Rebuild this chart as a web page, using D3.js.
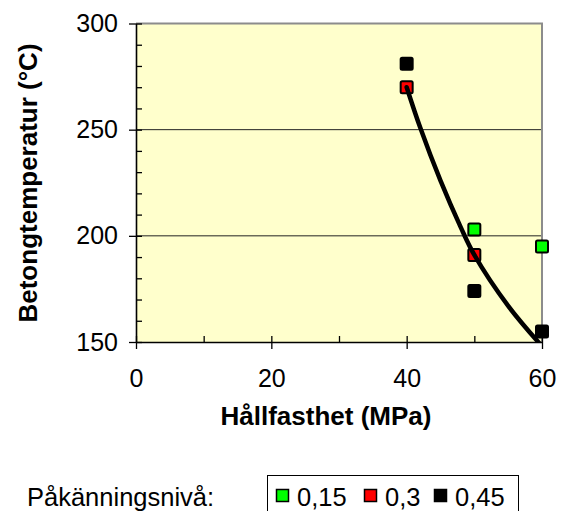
<!DOCTYPE html>
<html>
<head>
<meta charset="utf-8">
<script src="https://cdn.jsdelivr.net/npm/d3@7"></script>
<style>
  body { margin: 0; background: #fff; }
  svg { display: block; font-family: "Liberation Sans", Arial, sans-serif; }
</style>
</head>
<body>
<svg id="chart" width="565" height="511"></svg>
<script>
// data
var levels = ["0,15", "0,3", "0,45"];
var levelColors = ["#00FF00", "#FF0000", "#000000"];
var strength015 = [50, 60];
var temp015 = [203, 195];
var strength030 = [40, 50];
var temp030 = [270, 191];
var strength045 = [40, 50, 60];
var temp045 = [281, 174, 155];
// trend curve, points
var trendStrength = [40, 42, 45, 48, 50, 55, 60];
var trendTemp = [270, 251, 226, 204, 191, 167, 148];
var xTicks = [0, 20, 40, 60];
var yTicks = [150, 200, 250, 300];

var series = [
  { name: levels[0], color: levelColors[0], xs: strength015, ys: temp015 },
  { name: levels[1], color: levelColors[1], xs: strength030, ys: temp030 },
  { name: levels[2], color: levelColors[2], xs: strength045, ys: temp045 }
];

var svg = d3.select("#chart");
var plotLeft = 136, plotRight = 542, plotTop = 23.5, plotBottom = 342;

var x = d3.scaleLinear().domain([0, 60]).range([plotLeft, plotRight]);
var y = d3.scaleLinear().domain([150, 300]).range([plotBottom, plotTop]);

// plot background
svg.append("rect")
  .attr("x", plotLeft).attr("y", plotTop)
  .attr("width", plotRight - plotLeft).attr("height", plotBottom - plotTop)
  .style("fill", "#FFFFCC");

// gridlines
svg.append("g").selectAll("line")
  .data([200, 250])
  .enter().append("line")
  .attr("x1", plotLeft).attr("x2", plotRight)
  .attr("y1", function (d) { return y(d); })
  .attr("y2", function (d) { return y(d); })
  .style("stroke", "#222")
  .style("stroke-width", 1);

// top and right border in gray
svg.append("path")
  .attr("d", "M" + plotLeft + "," + plotTop + "H" + plotRight + "V" + plotBottom)
  .style("fill", "none")
  .style("stroke", "#8c8c8c")
  .style("stroke-width", 2);

// minor ticks pointing inward (every 10)
svg.append("g")
  .attr("transform", "translate(" + plotLeft + ",0)")
  .call(d3.axisLeft(y).tickValues(d3.range(150, 301, 10)).tickSize(-6).tickFormat(""))
  .call(function (g) { g.select(".domain").remove(); });
svg.append("g")
  .attr("transform", "translate(0," + plotBottom + ")")
  .call(d3.axisBottom(x).tickValues(d3.range(0, 61, 10)).tickSize(-6).tickFormat(""))
  .call(function (g) { g.select(".domain").remove(); });

// major axes
var yAxis = svg.append("g")
  .attr("transform", "translate(" + plotLeft + ",0)")
  .call(d3.axisLeft(y).tickValues(yTicks).tickSize(7).tickSizeOuter(0).tickPadding(11));
var xAxis = svg.append("g")
  .attr("transform", "translate(0," + plotBottom + ")")
  .call(d3.axisBottom(x).tickValues(xTicks).tickSize(7).tickSizeOuter(0).tickPadding(20));

[yAxis, xAxis].forEach(function (g) {
  g.attr("font-size", null).attr("font-family", null);
  g.selectAll("text").style("font-size", "25px").style("fill", "#000");
  g.select(".domain").style("stroke", "#000").style("stroke-width", 1.6);
});
svg.selectAll(".tick line").style("stroke", "#000").style("stroke-width", 1.3);

// axis titles
svg.append("text")
  .attr("x", 326).attr("y", 425)
  .attr("text-anchor", "middle")
  .style("font-size", "26px").style("font-weight", "bold")
  .text("Hållfasthet (MPa)");

svg.append("text")
  .attr("transform", "translate(37,183) rotate(-90)")
  .attr("text-anchor", "middle")
  .style("font-size", "26px").style("font-weight", "bold")
  .text("Betongtemperatur (°C)");

// markers
var marker = 12;
series.forEach(function (s) {
  svg.append("g").selectAll("rect")
    .data(s.xs.map(function (v, i) { return [v, s.ys[i]]; }))
    .enter().append("rect")
    .attr("x", function (d) { return x(d[0]) - marker / 2; })
    .attr("y", function (d) { return y(d[1]) - marker / 2; })
    .attr("width", marker).attr("height", marker)
    .attr("rx", 1.5)
    .style("fill", s.color)
    .style("stroke", "#000")
    .style("stroke-width", 2);
});

// trend curve, clipped to the plot area
svg.append("clipPath").attr("id", "plotclip")
  .append("rect")
  .attr("x", plotLeft).attr("y", plotTop)
  .attr("width", plotRight - plotLeft).attr("height", plotBottom - plotTop);

var trendLine = d3.line()
  .x(function (d) { return x(d[0]); })
  .y(function (d) { return y(d[1]); })
  .curve(d3.curveCatmullRom.alpha(0.5));

svg.append("path")
  .datum(trendStrength.map(function (v, i) { return [v, trendTemp[i]]; }))
  .attr("clip-path", "url(#plotclip)")
  .attr("d", trendLine)
  .style("fill", "none")
  .style("stroke", "#000")
  .style("stroke-width", 4.5)
  .style("stroke-linecap", "round");

// legend
svg.append("text")
  .attr("x", 27).attr("y", 506)
  .style("font-size", "25.5px")
  .text("Påkänningsnivå:");

svg.append("rect")
  .attr("x", 267.5).attr("y", 475.5)
  .attr("width", 251).attr("height", 50)
  .style("fill", "#fff")
  .style("stroke", "#000")
  .style("stroke-width", 1);

var legendX = [276, 364, 434];
var legendItem = svg.append("g").selectAll("g")
  .data(series)
  .enter().append("g")
  .attr("transform", function (d, i) { return "translate(" + legendX[i] + ",0)"; });

legendItem.append("rect")
  .attr("x", 0.5).attr("y", 489.5)
  .attr("width", 12).attr("height", 12)
  .style("fill", function (d) { return d.color; })
  .style("stroke", "#000")
  .style("stroke-width", 1.5);

legendItem.append("text")
  .attr("x", 21).attr("y", 506)
  .style("font-size", "25.5px")
  .text(function (d) { return d.name; });
</script>
</body>
</html>
